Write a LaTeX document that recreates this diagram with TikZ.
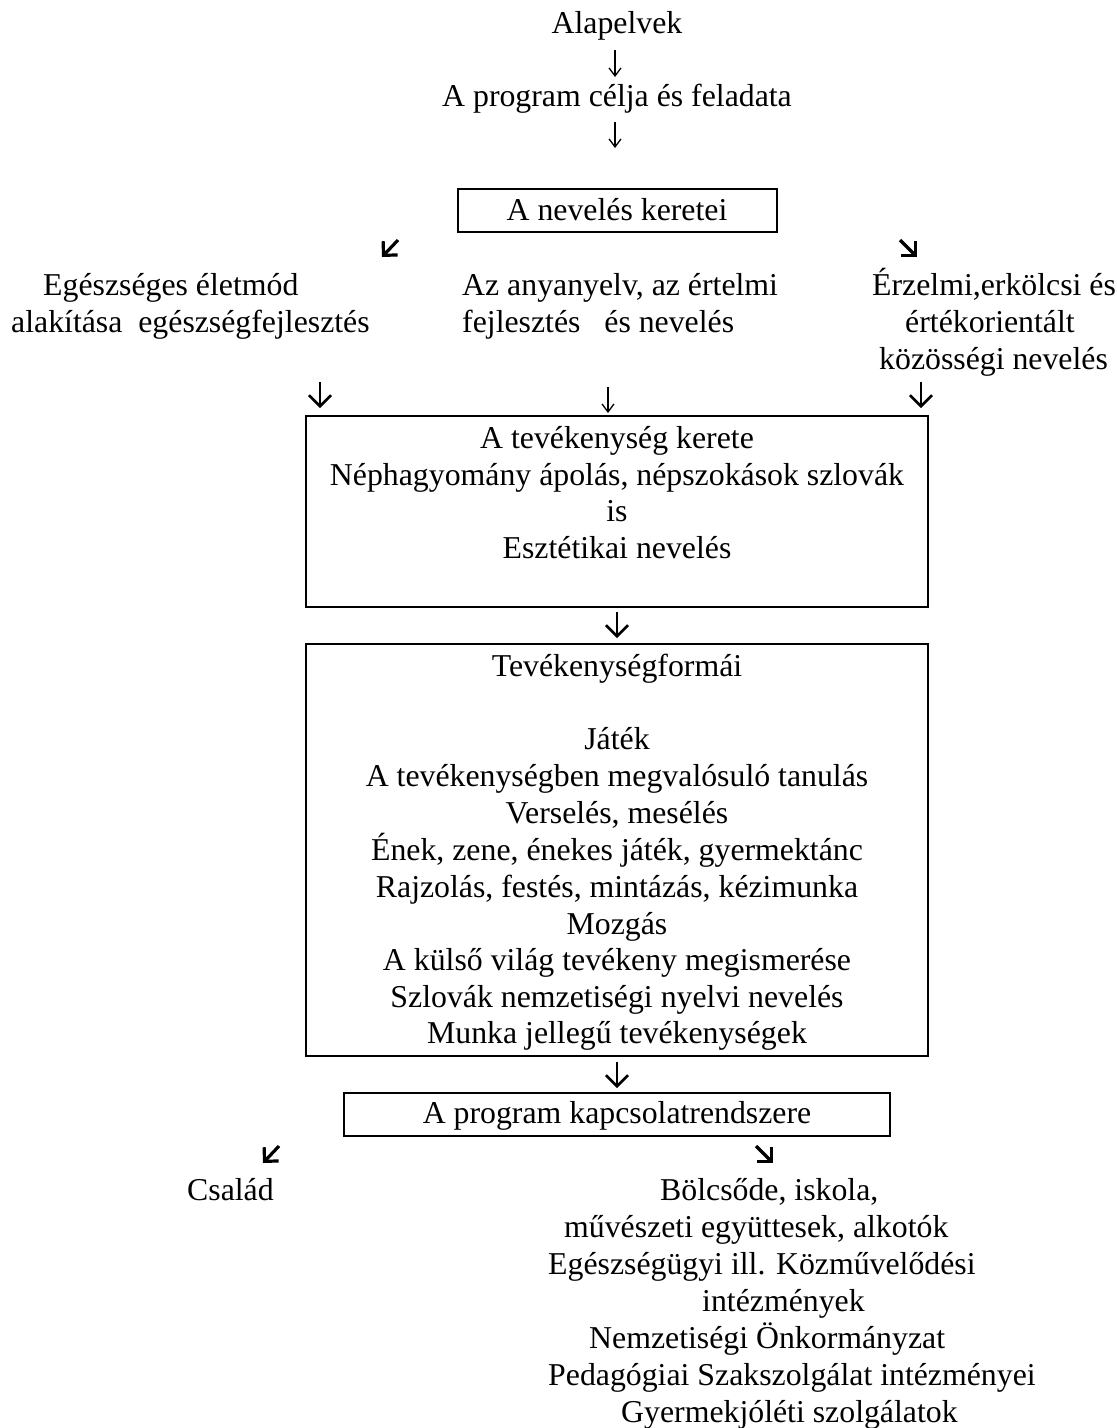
\documentclass[tikz,border=0pt]{standalone}
\usepackage{fontspec}
\setmainfont{Liberation Serif}
\usetikzlibrary{arrows.meta}
\begin{document}
\begin{tikzpicture}[x=1pt,y=-1pt,
  every node/.style={font=\fontsize{31.8pt}{36.8pt}\selectfont, inner sep=0pt},
  txt/.style={anchor=base},
  ltxt/.style={anchor=base west},
  boxst/.style={draw, line width=2.2pt, inner sep=0pt},
  thinarr/.style={line width=1.3pt, -{Straight Barb[length=8pt, width=12pt]}},
  thickarr/.style={line width=2.6pt, -{Straight Barb[length=11pt, width=22pt]}},
  diagarr/.style={line width=3.2pt, -{Straight Barb[length=10pt, width=20pt]}}
]
\useasboundingbox (0,0) rectangle (1117,1428);

% top texts
\node[txt] (alap) at (617,33) {Alapelvek};
\node[txt] (cel) at (617,106) {A program célja és feladata};
\coordinate (t1s) at (615,50); \coordinate (t1e) at (615,77);
\coordinate (t2s) at (615,122); \coordinate (t2e) at (615,148);
\draw[thinarr] (t1s) -- (t1e);
\draw[thinarr] (t2s) -- (t2e);

% box 1
\node[boxst, minimum width=319pt, minimum height=43pt] (b1) at (617.5,210.5) {};
\node[txt] (b1t) at (617,220) {A nevelés keretei};

\coordinate (d1s) at (398,240); \coordinate (d1e) at (382,257);
\coordinate (d2s) at (900,240); \coordinate (d2e) at (917,257);
\draw[diagarr] (d1s) -- (d1e);
\draw[diagarr] (d2s) -- (d2e);

% three columns
\node[ltxt] (e1) at (43,295) {Egészséges életmód};
\node[ltxt] (e2) at (11,332) {alakítása\ \ egészségfejlesztés};
\node[ltxt] (a1) at (462,295) {Az anyanyelv, az értelmi};
\node[ltxt] (a2) at (462,332) {fejlesztés\ \ \ és nevelés};
\node[ltxt] (r1) at (872,295) {Érzelmi,erkölcsi és};
\node[ltxt] (r2) at (905,332) {értékorientált};
\node[ltxt] (r3) at (879,369) {közösségi nevelés};

\coordinate (k1s) at (320,382); \coordinate (k1e) at (320,408);
\coordinate (k2s) at (608,387); \coordinate (k2e) at (608,413);
\coordinate (k3s) at (921,382); \coordinate (k3e) at (921,408);
\draw[thickarr] (k1s) -- (k1e);
\draw[thinarr] (k2s) -- (k2e);
\draw[thickarr] (k3s) -- (k3e);

% box 2
\node[boxst, minimum width=622pt, minimum height=191pt] (b2) at (617,511.5) {};
\node[txt] at (617,448) {A tevékenység kerete};
\node[txt] at (617,485) {Néphagyomány ápolás, népszokások szlovák};
\node[txt] at (617,521) {is};
\node[txt] at (617,558) {Esztétikai nevelés};

\coordinate (m1s) at (617,612); \coordinate (m1e) at (617,638);
\draw[thickarr] (m1s) -- (m1e);

% box 3
\node[boxst, minimum width=622pt, minimum height=412pt] (b3) at (617,850) {};
\node[txt] at (617,676) {Tevékenységformái};
\node[txt] at (617,749) {Játék};
\node[txt] at (617,786) {A tevékenységben megvalósuló tanulás};
\node[txt] at (617,823) {Verselés, mesélés};
\node[txt] at (617,860) {Ének, zene, énekes játék, gyermektánc};
\node[txt] at (617,897) {Rajzolás, festés, mintázás, kézimunka};
\node[txt] at (617,934) {Mozgás};
\node[txt] at (617,970) {A külső világ tevékeny megismerése};
\node[txt] at (617,1007) {Szlovák nemzetiségi nyelvi nevelés};
\node[txt] at (617,1043) {Munka jellegű tevékenységek};

\coordinate (m2s) at (617,1062); \coordinate (m2e) at (617,1088);
\draw[thickarr] (m2s) -- (m2e);

% box 4
\node[boxst, minimum width=546pt, minimum height=43pt] (b4) at (617,1114.5) {};
\node[txt] (b4t) at (617,1123) {A program kapcsolatrendszere};

\coordinate (d3s) at (279,1146); \coordinate (d3e) at (263,1163);
\coordinate (d4s) at (756,1146); \coordinate (d4e) at (773,1163);
\draw[diagarr] (d3s) -- (d3e);
\draw[diagarr] (d4s) -- (d4e);

% bottom texts
\node[ltxt] (csa) at (187,1200) {Család};
\node[ltxt] at (660,1200) {Bölcsőde, iskola,};
\node[ltxt] at (564,1237) {művészeti együttesek, alkotók};
\node[ltxt] at (548,1274) {Egészségügyi ill. Közművelődési};
\node[ltxt] at (702,1311) {intézmények};
\node[ltxt] at (589,1348) {Nemzetiségi Önkormányzat};
\node[ltxt] at (548,1385) {Pedagógiai Szakszolgálat intézményei};
\node[ltxt] at (621,1422) {Gyermekjóléti szolgálatok};
\end{tikzpicture}
\end{document}
